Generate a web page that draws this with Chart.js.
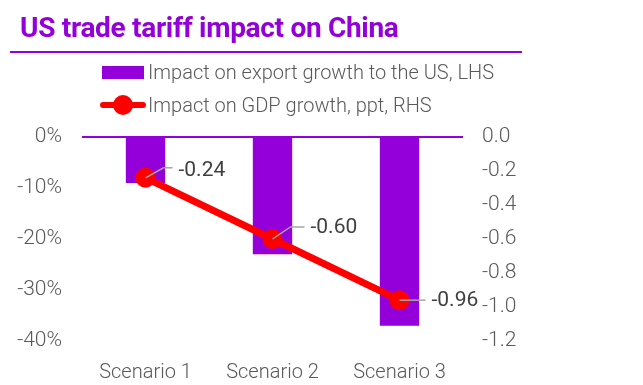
<!DOCTYPE html>
<html>
<head>
<meta charset="utf-8">
<script src="https://cdn.jsdelivr.net/npm/chart.js@4.4.1/dist/chart.umd.min.js"></script>
<style>
  html, body { margin: 0; padding: 0; background: #fff; }
  #wrap { position: relative; width: 643px; height: 385px; font-family: Roboto, "Noto Sans", sans-serif; }
  #title { position: absolute; left: 20px; top: 11px; font-size: 28px; font-weight: 700; color: #9300DA; letter-spacing: -0.3px; }
  #rule { position: absolute; left: 10px; top: 51px; width: 512px; height: 2px; background: #9300DA; }
  .leg { position: absolute; left: 100px; height: 26px; display: flex; align-items: center; font-size: 20px; font-weight: 300; color: #595959; }
  .sw-bar { width: 42px; height: 13px; background: #9300DA; margin: 0 4px 0 2px; }
  .sw-line { position: relative; width: 46px; height: 26px; margin-right: 2px; }
  .sw-line::before { content: ""; position: absolute; left: 0; right: 0; top: 10px; height: 6px; background: #FF0000; border-radius: 3px; }
  .sw-line::after { content: ""; position: absolute; left: 13px; top: 3px; width: 20px; height: 20px; border-radius: 50%; background: #FF0000; }
  #chart { position: absolute; left: 0; top: 0; }
</style>
</head>
<body>
<div id="wrap">
  <canvas id="chart" width="643" height="385"></canvas>
  <div id="title">US trade tariff impact on China</div>
  <div id="rule"></div>
  <div class="leg" style="top:59px;"><div class="sw-bar"></div><span id="leg1"></span></div>
  <div class="leg" style="top:92px;"><div class="sw-line"></div><span id="leg2"></span></div>
</div>
<script>
const categories = ['Scenario 1', 'Scenario 2', 'Scenario 3'];
const exportImpact = [-9, -23, -37];        // % , LHS
const gdpImpact = [-0.24, -0.60, -0.96];    // ppt, RHS
const seriesNames = ['Impact on export growth to the US, LHS', 'Impact on GDP growth, ppt, RHS'];
const leftTicks = [0, -10, -20, -30, -40];
const rightTicks = [0, -0.2, -0.4, -0.6, -0.8, -1.0, -1.2];

document.getElementById('leg1').textContent = seriesNames[0];
document.getElementById('leg2').textContent = seriesNames[1];

const PURPLE = '#9300DA';
const RED = '#FF0000';
const TICK_FONT = { family: 'Roboto, "Noto Sans", sans-serif', size: 21, weight: '300' };

// leader lines + value labels for the GDP line
const leaderLabels = {
  id: 'leaderLabels',
  afterDatasetsDraw(chart) {
    const ctx = chart.ctx;
    const meta = chart.getDatasetMeta(0);
    const offs = [[18, -10, 9], [18, -12, 14], [0, 0, 26]];
    ctx.save();
    meta.data.forEach((pt, i) => {
      const [dx, dy, run] = offs[i];
      const x1 = pt.x + dx, y1 = pt.y + dy, x2 = x1 + run;
      ctx.strokeStyle = '#A6A6A6';
      ctx.lineWidth = 1.5;
      ctx.beginPath();
      ctx.moveTo(pt.x, pt.y);
      ctx.lineTo(x1, y1);
      ctx.lineTo(x2, y1);
      ctx.stroke();
      ctx.fillStyle = '#404040';
      ctx.font = '400 21px Roboto, "Noto Sans", sans-serif';
      ctx.textAlign = 'left';
      ctx.textBaseline = 'middle';
      ctx.fillText(gdpImpact[i].toFixed(2), x2 + 6, y1 + (i === 0 ? 3 : 1));
    });
    ctx.restore();
  }
};

new Chart(document.getElementById('chart'), {
  data: {
    labels: categories,
    datasets: [
      {
        type: 'line',
        label: seriesNames[1],
        data: gdpImpact,
        yAxisID: 'y1',
        borderColor: RED,
        backgroundColor: RED,
        borderWidth: 7,
        pointRadius: 10,
        pointBorderWidth: 0,
        pointBackgroundColor: RED,
        tension: 0,
        order: 0
      },
      {
        type: 'bar',
        label: seriesNames[0],
        data: exportImpact,
        yAxisID: 'y',
        backgroundColor: PURPLE,
        categoryPercentage: 1,
        barPercentage: 0.31,
        order: 1
      }
    ]
  },
  options: {
    responsive: false,
    animation: false,
    devicePixelRatio: 1,
    layout: { padding: { top: 137, bottom: 0, left: 0, right: 0 } },
    plugins: { legend: { display: false }, tooltip: { enabled: false } },
    scales: {
      x: {
        grid: { display: false, drawTicks: false },
        border: { display: false },
        ticks: { color: '#595959', font: { ...TICK_FONT, size: 20 }, padding: 20 },
        afterFit: s => { s.height = 44; }
      },
      y: {
        position: 'left',
        min: -40, max: 0,
        afterBuildTicks: s => { s.ticks = leftTicks.map(v => ({ value: v })); },
        grid: {
          drawTicks: false,
          color: c => (c.tick && c.tick.value === 0 ? PURPLE : 'rgba(0,0,0,0)'),
          lineWidth: 2
        },
        border: { display: false },
        ticks: { color: '#595959', font: TICK_FONT, padding: 20, callback: v => v + '%' },
        afterFit: s => { s.width = 82; }
      },
      y1: {
        position: 'right',
        min: -1.2, max: 0,
        afterBuildTicks: s => { s.ticks = rightTicks.map(v => ({ value: v })); },
        grid: { display: false, drawTicks: false },
        border: { display: false },
        ticks: { color: '#595959', font: TICK_FONT, padding: 19, callback: v => v.toFixed(1) },
        afterFit: s => { s.width = 180; }
      }
    }
  },
  plugins: [leaderLabels]
});
</script>
</body>
</html>
